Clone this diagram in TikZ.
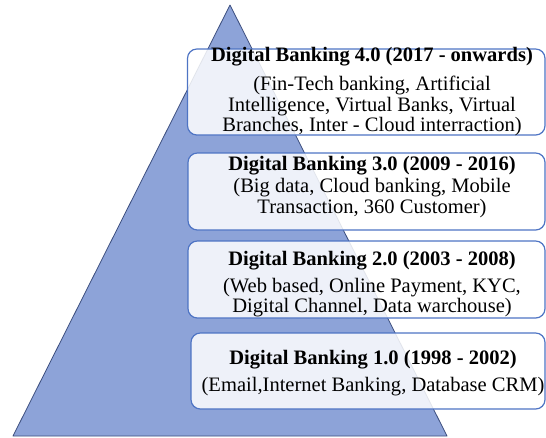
\documentclass[tikz,border=0pt]{standalone}
\usepackage{fontspec}
\setmainfont{Liberation Serif}
\usetikzlibrary{fit}
\definecolor{tri}{HTML}{8DA3D8}
\definecolor{triedge}{HTML}{3C4E7E}
\definecolor{boxedge}{HTML}{4E74C4}
\begin{document}
\begin{tikzpicture}[x=0.75pt,y=-0.75pt,
  pyramid/.style={fill=tri,draw=triedge,line width=0.6pt,line join=round},
  stagebox/.style={draw=boxedge,line width=0.9pt,fill=white,fill opacity=0.85,rounded corners=7pt,inner sep=0pt},
  stagetext/.style={inner sep=0pt,anchor=base,font=\fontsize{15.4}{15.5}\selectfont}]
\useasboundingbox (0,0) rectangle (546,437);
% pyramid
\draw[pyramid] (230,5) -- (447,436) -- (13,436) -- cycle;
% boxes
\coordinate (b4a) at (187.5,49); \coordinate (b4b) at (545,135);
\coordinate (b3a) at (188,153);  \coordinate (b3b) at (545,230);
\coordinate (b2a) at (188,241);  \coordinate (b2b) at (545,318);
\coordinate (b1a) at (191,333);  \coordinate (b1b) at (545,409);
\node[stagebox,fit=(b4a)(b4b)] (b4) {};
\node[stagebox,fit=(b3a)(b3b)] (b3) {};
\node[stagebox,fit=(b2a)(b2b)] (b2) {};
\node[stagebox,fit=(b1a)(b1b)] (b1) {};
% texts
\node[stagetext] (t4) at (372,61) {\begin{tabular}[t]{@{}c@{}}\textbf{Digital Banking 4.0 (2017 - onwards)}\\[6.5pt]
(Fin-Tech banking, Artificial\\ Intelligence, Virtual Banks, Virtual\\ Branches, Inter - Cloud interraction)\end{tabular}};
\node[stagetext] (t3) at (372,170) {\begin{tabular}[t]{@{}c@{}}\textbf{Digital Banking 3.0 (2009 - 2016)}\\[1.5pt]
(Big data, Cloud banking, Mobile\\ Transaction, 360 Customer)\end{tabular}};
\node[stagetext] (t2) at (372,265.5) {\begin{tabular}[t]{@{}c@{}}\textbf{Digital Banking 2.0 (2003 - 2008)}\\[4.5pt]
(Web based, Online Payment, KYC,\\ Digital Channel, Data warchouse)\end{tabular}};
\node[stagetext] (t1) at (373,364.5) {\begin{tabular}[t]{@{}c@{}}\textbf{Digital Banking 1.0 (1998 - 2002)}\\[4.5pt]
(Email,Internet Banking, Database CRM)\end{tabular}};
\end{tikzpicture}
\end{document}
